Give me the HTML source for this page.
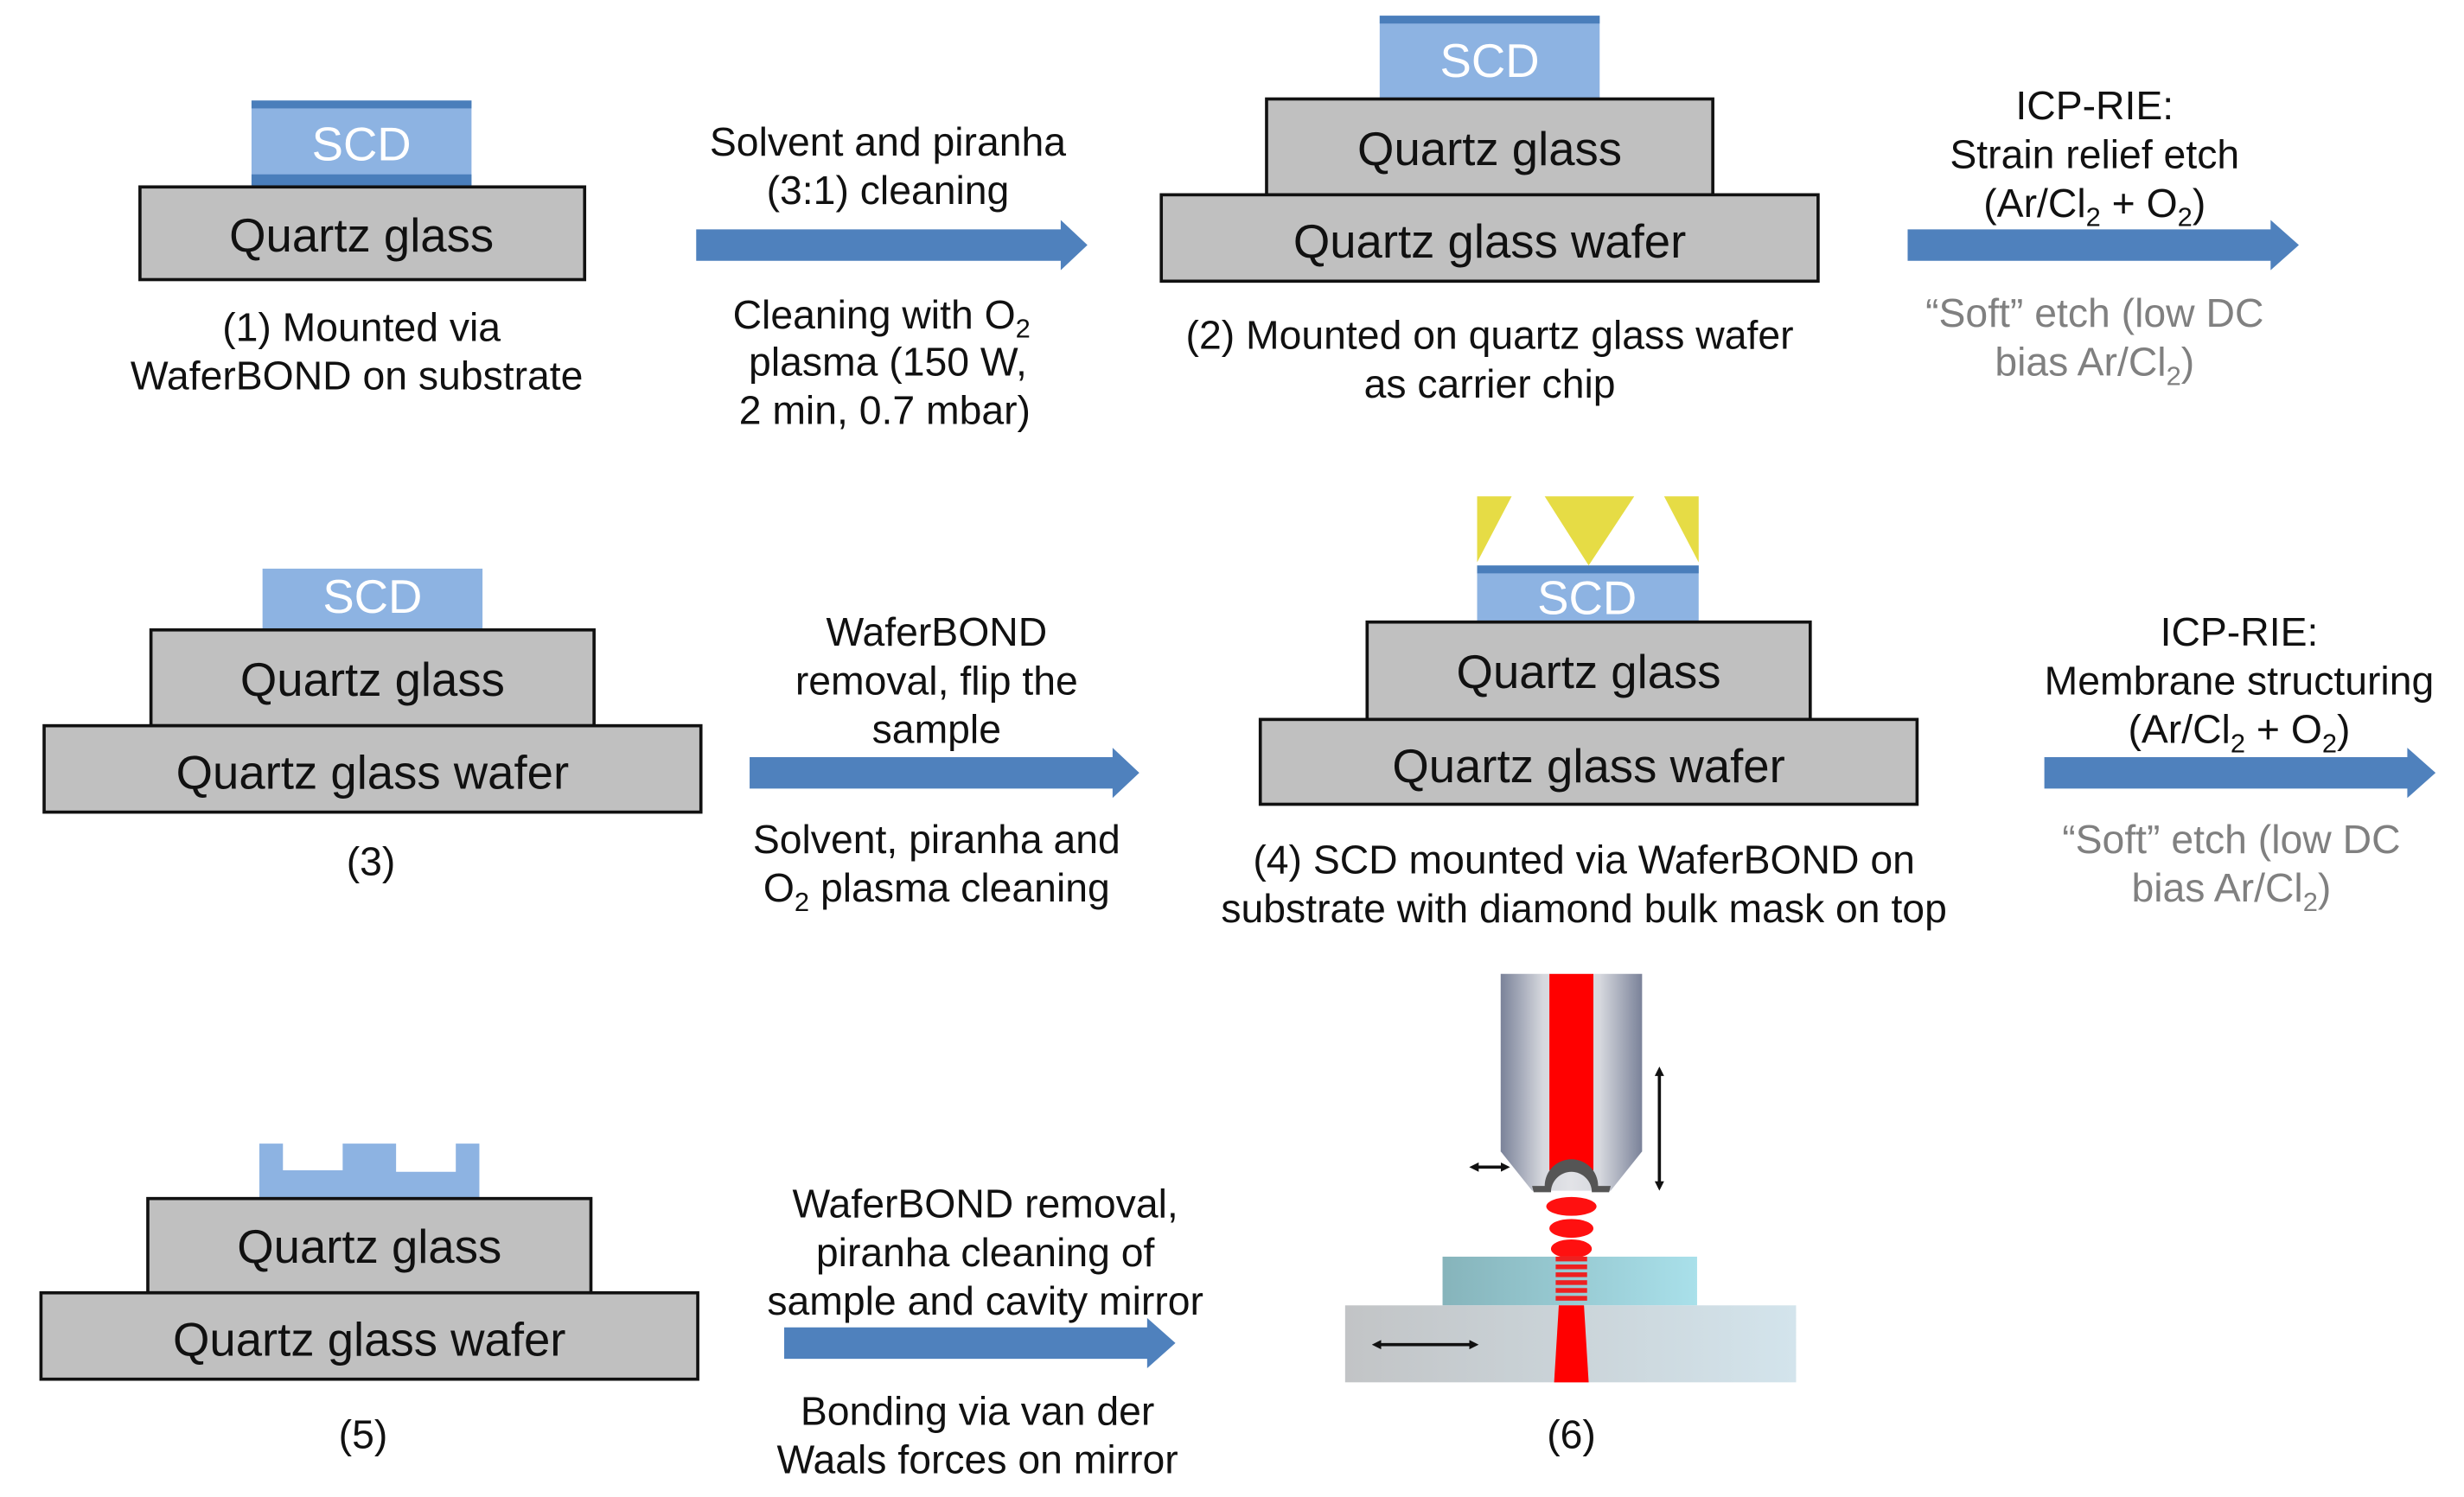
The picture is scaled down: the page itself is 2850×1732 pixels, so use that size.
<!DOCTYPE html>
<html><head><meta charset="utf-8"><style>
html,body{margin:0;padding:0;background:#fff;}
svg{display:block;}
text{font-family:"Liberation Sans",Arial,sans-serif;}
</style></head><body>
<svg width="2850" height="1732" viewBox="0 0 1568 953" xmlns="http://www.w3.org/2000/svg">
<defs>
<linearGradient id="fib" x1="0" x2="1" y1="0" y2="0">
<stop offset="0" stop-color="#7a8299"/><stop offset="0.3" stop-color="#d6d8de"/><stop offset="0.5" stop-color="#e2e3e7"/><stop offset="0.7" stop-color="#d6d8de"/><stop offset="1" stop-color="#7a8299"/></linearGradient>
<linearGradient id="chip" x1="0" x2="1"><stop offset="0" stop-color="#86b4bb"/><stop offset="1" stop-color="#a9e0ea"/></linearGradient>
<linearGradient id="sub" x1="0" x2="1"><stop offset="0" stop-color="#c2c4c6"/><stop offset="1" stop-color="#d3e4ec"/></linearGradient>
<marker id="ah" markerWidth="6" markerHeight="6" refX="3" refY="3" orient="auto-start-reverse" markerUnits="userSpaceOnUse"><path d="M0,0 L6,3 L0,6 z" fill="#111"/></marker>
</defs>
<g font-size="25.5" fill="#111" text-anchor="middle">

<!-- Panel 1 -->
<rect x="160" y="64" width="140" height="54" fill="#8db3e2"/>
<rect x="160" y="64" width="140" height="5" fill="#4a7ebb"/>
<rect x="160" y="111" width="140" height="7" fill="#4a7ebb"/>
<text x="230" y="102" font-size="30" fill="#fff">SCD</text>
<rect x="89" y="119" width="283" height="59" fill="#c0c0c0" stroke="#111" stroke-width="2"/>
<text x="230" y="160" font-size="30">Quartz glass</text>
<text x="230" y="217">(1) Mounted via</text>
<text x="227" y="248">WaferBOND on substrate</text>

<!-- Arrow 1 -->
<path d="M443,146 H675 V140 L692,156 L675,172 V166 H443 Z" fill="#4f81bd"/>
<text x="565" y="99">Solvent and piranha</text>
<text x="565" y="130">(3:1) cleaning</text>
<text x="561" y="209">Cleaning with O<tspan font-size="17" dy="6">2</tspan></text>
<text x="565" y="239">plasma (150 W,</text>
<text x="563" y="270">2 min, 0.7 mbar)</text>

<!-- Panel 2 -->
<rect x="878" y="10" width="140" height="53" fill="#8db3e2"/>
<rect x="878" y="10" width="140" height="5" fill="#4a7ebb"/>
<text x="948" y="49" font-size="30" fill="#fff">SCD</text>
<rect x="806" y="63" width="284" height="61" fill="#c0c0c0" stroke="#111" stroke-width="2"/>
<text x="948" y="105" font-size="30">Quartz glass</text>
<rect x="739" y="124" width="418" height="55" fill="#c0c0c0" stroke="#111" stroke-width="2"/>
<text x="948" y="164" font-size="30">Quartz glass wafer</text>
<text x="948" y="222">(2) Mounted on quartz glass wafer</text>
<text x="948" y="253">as carrier chip</text>

<!-- Arrow 2 -->
<path d="M1214,146 H1445 V140 L1463,156 L1445,172 V166 H1214 Z" fill="#4f81bd"/>
<text x="1333" y="76">ICP-RIE:</text>
<text x="1333" y="107">Strain relief etch</text>
<text x="1333" y="138">(Ar/Cl<tspan font-size="17" dy="6">2</tspan><tspan dy="-6"> + O</tspan><tspan font-size="17" dy="6">2</tspan><tspan dy="-6">)</tspan></text>
<text x="1333" y="208" fill="#808080">“Soft” etch (low DC</text>
<text x="1333" y="239" fill="#808080">bias Ar/Cl<tspan font-size="17" dy="6">2</tspan><tspan dy="-6">)</tspan></text>

<!-- Panel 3 -->
<rect x="167" y="362" width="140" height="39" fill="#8db3e2"/>
<text x="237" y="390" font-size="30" fill="#fff">SCD</text>
<rect x="96" y="401" width="282" height="61" fill="#c0c0c0" stroke="#111" stroke-width="2"/>
<text x="237" y="443" font-size="30">Quartz glass</text>
<rect x="28" y="462" width="418" height="55" fill="#c0c0c0" stroke="#111" stroke-width="2"/>
<text x="237" y="502" font-size="30">Quartz glass wafer</text>
<text x="236" y="557">(3)</text>

<!-- Arrow 3 -->
<path d="M477,482 H708 V476 L725,492 L708,508 V502 H477 Z" fill="#4f81bd"/>
<text x="596" y="411">WaferBOND</text>
<text x="596" y="442">removal, flip the</text>
<text x="596" y="473">sample</text>
<text x="596" y="543">Solvent, piranha and</text>
<text x="596" y="574">O<tspan font-size="17" dy="6">2</tspan><tspan dy="-6"> plasma cleaning</tspan></text>

<!-- Panel 4 -->
<path d="M940,316 L962,316 L940,358 Z" fill="#e6dc45"/>
<path d="M983,316 L1040,316 L1011,360 Z" fill="#e6dc45"/>
<path d="M1059,316 L1081,316 L1081,358 Z" fill="#e6dc45"/>
<rect x="940" y="360" width="141" height="36" fill="#8db3e2"/>
<rect x="940" y="360" width="141" height="5" fill="#4a7ebb"/>
<text x="1010" y="391" font-size="30" fill="#fff">SCD</text>
<rect x="870" y="396" width="282" height="62" fill="#c0c0c0" stroke="#111" stroke-width="2"/>
<text x="1011" y="438" font-size="30">Quartz glass</text>
<rect x="802" y="458" width="418" height="54" fill="#c0c0c0" stroke="#111" stroke-width="2"/>
<text x="1011" y="498" font-size="30">Quartz glass wafer</text>
<text x="1008" y="556">(4) SCD mounted via WaferBOND on</text>
<text x="1008" y="587">substrate with diamond bulk mask on top</text>

<!-- Arrow 4 -->
<path d="M1301,482 H1532 V476 L1550,492 L1532,508 V502 H1301 Z" fill="#4f81bd"/>
<text x="1425" y="411">ICP-RIE:</text>
<text x="1425" y="442">Membrane structuring</text>
<text x="1425" y="473">(Ar/Cl<tspan font-size="17" dy="6">2</tspan><tspan dy="-6"> + O</tspan><tspan font-size="17" dy="6">2</tspan><tspan dy="-6">)</tspan></text>
<text x="1420" y="543" fill="#808080">“Soft” etch (low DC</text>
<text x="1420" y="574" fill="#808080">bias Ar/Cl<tspan font-size="17" dy="6">2</tspan><tspan dy="-6">)</tspan></text>

<!-- Panel 5 -->
<path d="M165,728 H180 V745 H218 V728 H252 V746 H290 V728 H305 V763 H165 Z" fill="#8db3e2"/>
<rect x="94" y="763" width="282" height="60" fill="#c0c0c0" stroke="#111" stroke-width="2"/>
<text x="235" y="804" font-size="30">Quartz glass</text>
<rect x="26" y="823" width="418" height="55" fill="#c0c0c0" stroke="#111" stroke-width="2"/>
<text x="235" y="863" font-size="30">Quartz glass wafer</text>
<text x="231" y="922">(5)</text>

<!-- Arrow 5 -->
<path d="M499,845 H730 V839 L748,855 L730,871 V865 H499 Z" fill="#4f81bd"/>
<text x="627" y="775">WaferBOND removal,</text>
<text x="627" y="806">piranha cleaning of</text>
<text x="627" y="837">sample and cavity mirror</text>
<text x="622" y="907">Bonding via van der</text>
<text x="622" y="938">Waals forces on mirror</text>

<!-- Panel 6 -->
<path d="M955,620 H1045 V733 L1025,758 H975 L955,733 Z" fill="url(#fib)"/>
<rect x="986" y="620" width="28" height="125" fill="#ff0000"/>
<path d="M975,755 H983 A17,17 0 0 1 1017,755 H1025 L1024,759 H1013 A13,13 0 0 0 987,759 H976 Z" fill="#555"/>
<ellipse cx="1000" cy="768" rx="16" ry="6" fill="#ff1010"/>
<ellipse cx="1000" cy="782" rx="14" ry="6" fill="#ff1010"/>
<ellipse cx="1000" cy="795" rx="13" ry="6" fill="#ff1010"/>
<ellipse cx="1000" cy="808" rx="11" ry="6" fill="#ff1010"/>
<rect x="918" y="800" width="162" height="31" fill="url(#chip)"/>
<rect x="856" y="831" width="287" height="49" fill="url(#sub)"/>
<g fill="#ee2020">
<rect x="990" y="800" width="20" height="3"/><rect x="990" y="805" width="20" height="3"/><rect x="990" y="810" width="20" height="3"/><rect x="990" y="815" width="20" height="3"/><rect x="990" y="820" width="20" height="3"/><rect x="990" y="825" width="20" height="3"/>
</g>
<path d="M992,831 H1008 L1011,880 H989 Z" fill="#ff0000"/>
<line x1="938" y1="743" x2="958" y2="743" stroke="#111" stroke-width="2" marker-start="url(#ah)" marker-end="url(#ah)"/>
<line x1="1056" y1="682" x2="1056" y2="755" stroke="#111" stroke-width="2" marker-start="url(#ah)" marker-end="url(#ah)"/>
<line x1="876" y1="856" x2="938" y2="856" stroke="#111" stroke-width="2" marker-start="url(#ah)" marker-end="url(#ah)"/>
<text x="1000" y="922">(6)</text>
</g>
</svg>
</body></html>
